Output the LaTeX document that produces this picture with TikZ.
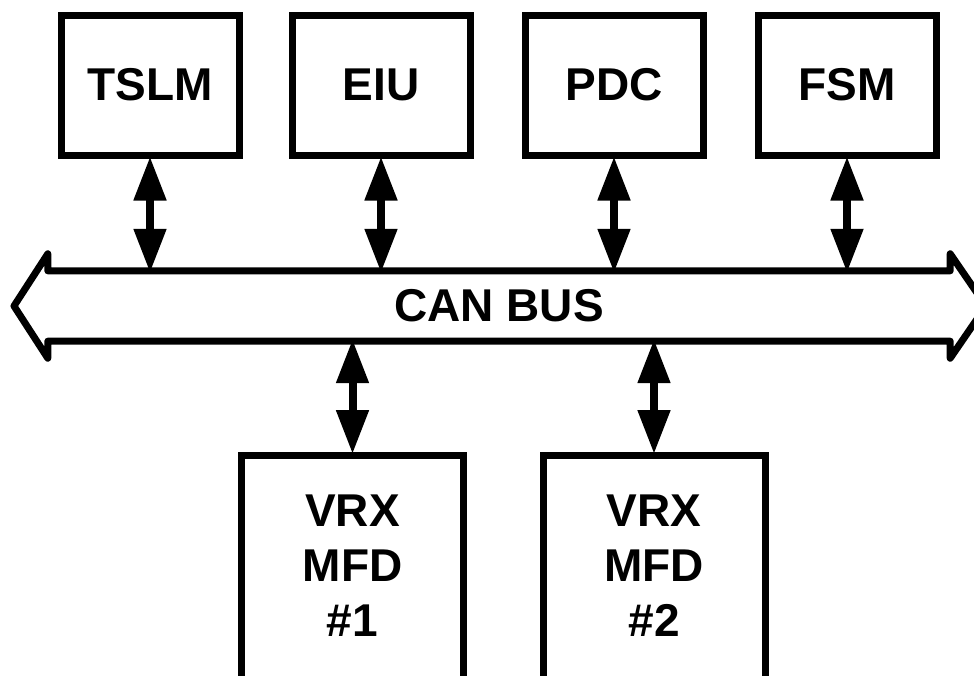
\documentclass[tikz,border=0pt]{standalone}
\usepackage{fontspec}
\setmainfont{Liberation Sans}
\usetikzlibrary{arrows.meta,calc}
\begin{document}
\begin{tikzpicture}[x=1pt,y=-1pt,
  box/.style={draw=black,line width=7pt,fill=white,font=\fontsize{46}{55}\selectfont\bfseries,align=center,inner sep=0pt},
  topbox/.style={box,minimum width=178pt,minimum height=140pt},
  botbox/.style={box,minimum width=222pt,minimum height=234pt},
  dbl/.style={line width=8pt,{Triangle[width=31pt,length=44pt]}-{Triangle[width=31pt,length=44pt]}},
  busline/.style={line width=7pt,line join=round,line cap=round}]
\useasboundingbox (0,0) rectangle (974,675);
\node[topbox] (tslm) at (150,85) {TSLM};
\node[topbox] (eiu) at (381,85) {EIU};
\node[topbox] (pdc) at (614,85) {PDC};
\node[topbox] (fsm) at (847,85) {FSM};
\node[inner sep=0pt,minimum width=902pt,minimum height=70pt,font=\fontsize{46}{55}\selectfont\bfseries] (bus) at (499,306) {CAN BUS};
\draw[busline] (bus.north west) -- ++(0,-17) -- (14,306) -- ($(bus.south west)+(0,17)$) -- (bus.south west) -- (bus.south east) -- ++(0,17) -- (986,306) -- ($(bus.north east)+(0,-17)$) -- (bus.north east) -- cycle;
\node[botbox,label={[yshift=7pt,font=\fontsize{46}{55}\selectfont\bfseries,align=center]center:VRX\\MFD\\\#1}] (vrx1) at (352.5,572.5) {};
\node[botbox,label={[yshift=7pt,font=\fontsize{46}{55}\selectfont\bfseries,align=center]center:VRX\\MFD\\\#2}] (vrx2) at (654,572.5) {};
\foreach \n in {tslm,eiu,pdc,fsm}
  \draw[dbl] ($(\n.south)+(0,-2)$) -- ($(\n.south |- bus.north)+(0,2)$);
\foreach \n in {vrx1,vrx2}
  \draw[dbl] ($(\n.north |- bus.south)+(0,-2)$) -- ($(\n.north)+(0,2)$);
\end{tikzpicture}
\end{document}
